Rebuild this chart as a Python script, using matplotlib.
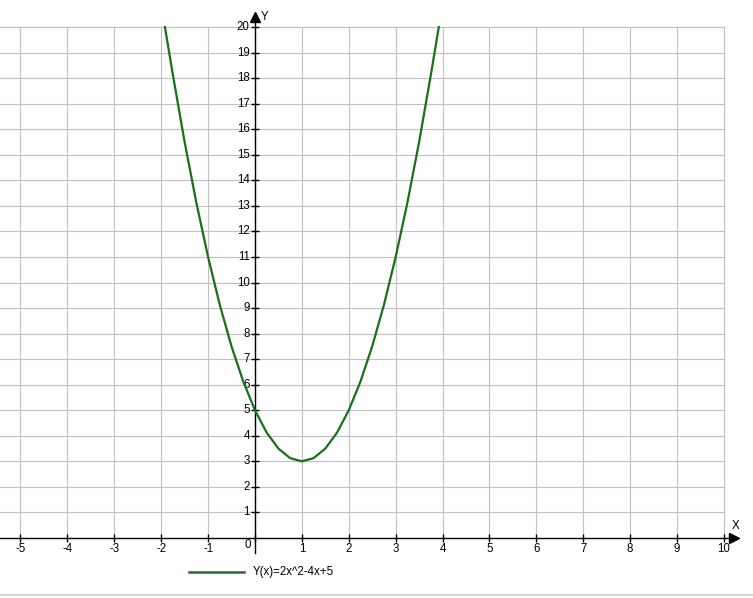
import matplotlib
matplotlib.use("Agg")
import matplotlib.pyplot as plt

# points (cut at the top of the grid, y = 20)
curve_x = [-1.92, -1.75, -1.5, -1.25, -1.0, -0.75, -0.5, -0.25, 0.0, 0.25, 0.5,
           0.75, 1.0, 1.25, 1.5, 1.75, 2.0, 2.25, 2.5, 2.75, 3.0, 3.25, 3.5,
           3.75, 3.92]
curve_y = [20.0, 18.125, 15.5, 13.125, 11.0, 9.125, 7.5, 6.125, 5.0, 4.125, 3.5,
           3.125, 3.0, 3.125, 3.5, 4.125, 5.0, 6.125, 7.5, 9.125, 11.0, 13.125,
           15.5, 18.125, 20.0]
x_ticks = list(range(-5, 11))
y_ticks = list(range(1, 21))
legend_text = "Y(x)=2x^2-4x+5"

plt.rcParams["font.family"] = ["Liberation Sans", "DejaVu Sans"]
FS = 8.3
GREEN = "#17701a"

fig = plt.figure(figsize=(7.53, 5.98), dpi=100)
ax = fig.add_axes([0, 0, 1, 1])
ax.set_xlim(-5.437, 10.62)
ax.set_ylim(-2.35, 21.06)
ax.axis("off")

grid_kw = dict(color="#c0c0c0", lw=0.8, zorder=1)
for xv in x_ticks:
    ax.plot([xv, xv], [0, 20], **grid_kw)
for yv in y_ticks:
    ax.plot([-5.437, 10.0], [yv, yv], **grid_kw)

# axes with arrows
ax.plot([-5.437, 10.2], [0, 0], color="black", lw=1.0, zorder=3)
ax.plot([0, 0], [-0.6, 20.3], color="black", lw=1.0, zorder=3)
ax.plot([10.21], [0], marker=">", color="black", ms=7, zorder=4)
ax.plot([0], [20.39], marker="^", color="black", ms=7, zorder=4)
ax.text(10.24, 0.45, "X", fontsize=FS, ha="center", va="center")
ax.text(0.2, 20.39, "Y", fontsize=FS, ha="center", va="center")

# ticks and tick labels
ax.plot(x_ticks, [0] * len(x_ticks), ls="none", marker="|", ms=6, mew=1,
        color="black", zorder=3)
ax.plot([0] * len(y_ticks), y_ticks, ls="none", marker="_", ms=6, mew=1,
        color="black", zorder=3)
for xv in x_ticks:
    if xv == 0:
        continue
    ax.text(xv, -0.43, str(xv), fontsize=FS, ha="center", va="center")
for yv in y_ticks:
    ax.text(-0.11, yv, str(yv), fontsize=FS, ha="right", va="center")
ax.text(-0.08, -0.27, "0", fontsize=FS, ha="right", va="center")

# curve
ax.plot(curve_x, curve_y, color=GREEN, lw=1.6, zorder=5)

# legend
ax.plot([-1.41, -0.23], [-1.33, -1.33], color="#2a6a2a", lw=1.8)
ax.text(-0.04, -1.33, legend_text, fontsize=FS, ha="left", va="center")

# bottom border
ax.plot([-5.437, 10.62], [-2.25, -2.25], color="#d8d8d8", lw=1.5)

fig.savefig("out.png", dpi=100)
